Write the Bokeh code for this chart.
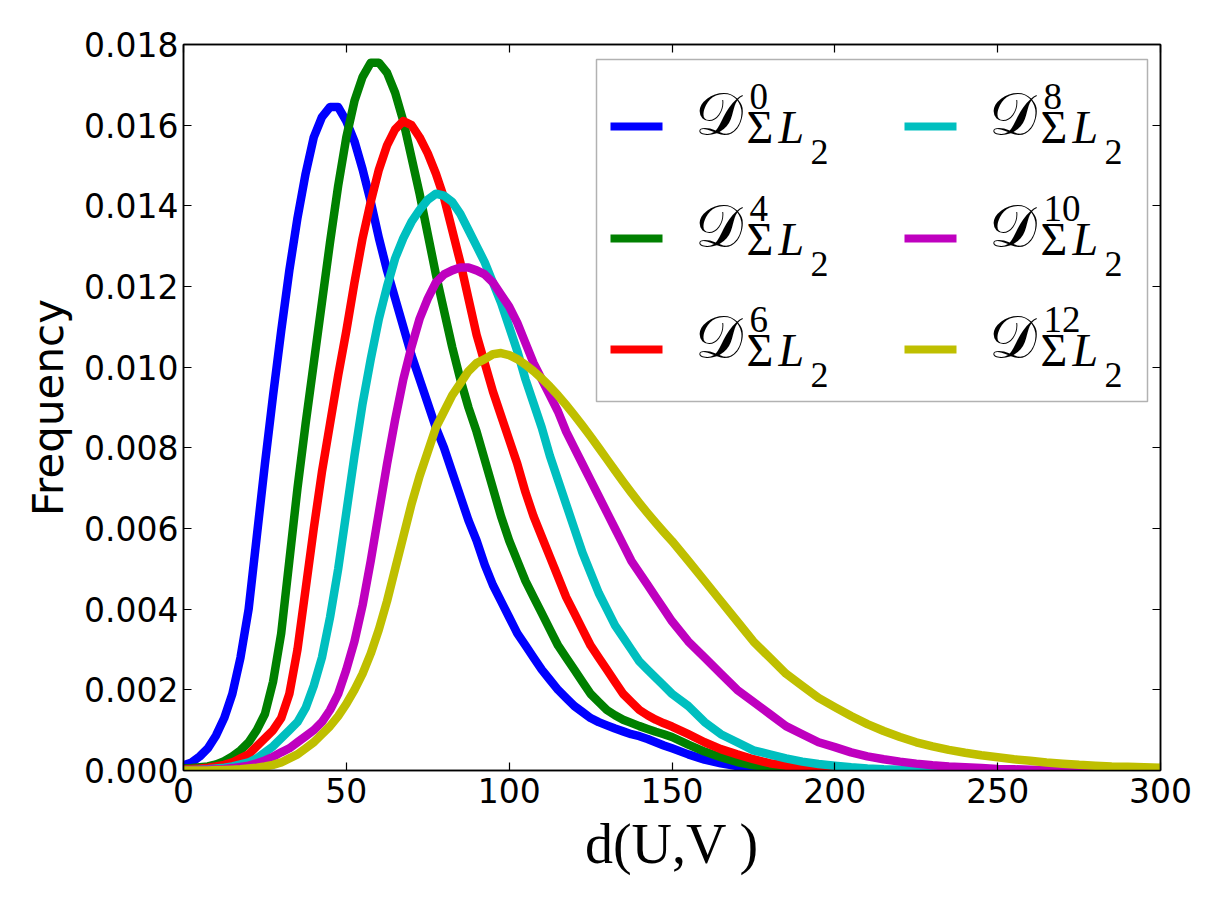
from bokeh.plotting import figure
from bokeh.models import (LinearAxis, FixedTicker, BoxAnnotation, Label, Range1d,
                          CustomLabelingPolicy)
from bokeh.embed import file_html
from bokeh.resources import INLINE

# ---------------- data ----------------
# sample positions along d(U,V): every 2.5 up to 150, then every 5 up to 300
x_vals = [i * 2.5 for i in range(61)] + list(range(155, 301, 5))

d0 = [0.00013, 0.0002, 0.00035, 0.00055, 0.00087, 0.0013, 0.0019, 0.0028, 0.0040, 0.0058,
      0.0076, 0.0093, 0.0109, 0.0124, 0.0137, 0.0148, 0.0157, 0.0162, 0.01645, 0.01645,
      0.0161, 0.0156, 0.0149, 0.0141, 0.0132, 0.0124, 0.0117, 0.0110, 0.0103, 0.0097,
      0.0091, 0.0085, 0.0080, 0.0074, 0.0068, 0.0062, 0.0057, 0.0051, 0.0046, 0.0042,
      0.0038, 0.0034, 0.0031, 0.0028, 0.0025, 0.00225, 0.0020, 0.0018, 0.0016, 0.00145,
      0.0013, 0.0012, 0.00112, 0.00104, 0.00097, 0.0009, 0.00085, 0.00078, 0.0007, 0.00062,
      0.00055,
      0.0004, 0.00027, 0.00018, 0.00011, 0.00007, 0.00004, 0.00002, 0.00001,
      0, 0, 0, 0, 0, 0, 0, 0, 0, 0, 0, 0, 0, 0, 0, 0, 0, 0, 0, 0, 0, 0]
d4 = [0.00005, 0.00006, 0.00008, 0.0001, 0.00015, 0.00023, 0.00035, 0.0005, 0.0007, 0.001,
      0.0014, 0.0022, 0.0034, 0.0052, 0.0070, 0.0086, 0.0101, 0.0116, 0.0131, 0.0145,
      0.0157, 0.0166, 0.0172, 0.01755, 0.01755, 0.0173, 0.0168, 0.0161, 0.0152, 0.0143,
      0.0133, 0.0123, 0.0114, 0.0105, 0.0097, 0.0090, 0.0084, 0.0077, 0.0070, 0.0063,
      0.0057, 0.0052, 0.0047, 0.0043, 0.0039, 0.0035, 0.0031, 0.0028, 0.0025, 0.0022,
      0.0019, 0.0017, 0.0015, 0.00137, 0.00126, 0.00118, 0.0011, 0.00103, 0.00096, 0.0009,
      0.00083,
      0.00064, 0.00047, 0.00033, 0.00021, 0.00013, 0.00008, 0.00005, 0.00003, 0.00001,
      0, 0, 0, 0, 0, 0, 0, 0, 0, 0, 0, 0, 0, 0, 0, 0, 0, 0, 0, 0, 0]
d6 = [0.00003, 0.00004, 0.00005, 0.00007, 0.0001, 0.00014, 0.0002, 0.0003, 0.0004, 0.0006,
      0.0008, 0.001, 0.0013, 0.0019, 0.0030, 0.0045, 0.0060, 0.0074, 0.0086, 0.0098,
      0.0109, 0.0121, 0.0132, 0.0141, 0.0149, 0.0155, 0.0159, 0.0161, 0.0160, 0.0157,
      0.0153, 0.0148, 0.0142, 0.0134, 0.0126, 0.0117, 0.0108, 0.0101, 0.0094, 0.0088,
      0.0082, 0.0076, 0.0069, 0.0063, 0.0058, 0.0053, 0.0048, 0.0043, 0.0039, 0.0035,
      0.0031, 0.0028, 0.0025, 0.0022, 0.0019, 0.0017, 0.0015, 0.00137, 0.00126, 0.00117,
      0.00109,
      0.0009, 0.0007, 0.00053, 0.0004, 0.00028, 0.00018, 0.00012, 0.00008, 0.00005, 0.00003,
      0.00001, 0, 0, 0, 0, 0, 0, 0, 0, 0, 0, 0, 0, 0, 0, 0, 0, 0, 0, 0]
d8 = [0.00001, 0.00001, 0.00002, 0.00003, 0.00005, 0.00007, 0.0001, 0.00015, 0.0002, 0.0003,
      0.00045, 0.0006, 0.0008, 0.001, 0.0012, 0.00155, 0.0021, 0.0028, 0.0038, 0.0050,
      0.0064, 0.0078, 0.0091, 0.0102, 0.0112, 0.0120, 0.0127, 0.0132, 0.0136, 0.0139,
      0.01415, 0.0143, 0.01425, 0.0141, 0.0138, 0.0134, 0.0130, 0.0126, 0.0121, 0.0116,
      0.0110, 0.0104, 0.0097, 0.0091, 0.0085, 0.0078, 0.0072, 0.0066, 0.0060, 0.0054,
      0.0049, 0.0044, 0.0040, 0.0036, 0.0033, 0.0030, 0.0027, 0.0025, 0.0023, 0.0021,
      0.0019,
      0.0016, 0.0012, 0.0009, 0.0007, 0.0005, 0.0004, 0.0003, 0.00022, 0.00016, 0.00012,
      0.00008, 0.00005, 0.00003, 0.00002, 0.00001, 0, 0, 0, 0, 0, 0, 0, 0, 0, 0, 0, 0, 0, 0, 0]
d10 = [0, 0, 0.00001, 0.00002, 0.00003, 0.00004, 0.00006, 0.00009, 0.00012, 0.00018,
       0.00025, 0.00034, 0.00045, 0.00055, 0.0007, 0.00085, 0.001, 0.0012, 0.0015, 0.0019,
       0.0025, 0.0032, 0.0041, 0.0052, 0.0064, 0.0076, 0.0087, 0.0097, 0.0105, 0.0112,
       0.0117, 0.0121, 0.0123, 0.0124, 0.01247, 0.01247, 0.0124, 0.0123, 0.0121, 0.0118,
       0.0115, 0.0111, 0.0106, 0.0101, 0.0097, 0.0093, 0.0089, 0.0084, 0.0080, 0.0076,
       0.0072, 0.0068, 0.0064, 0.0060, 0.0056, 0.0052, 0.0049, 0.0046, 0.0043, 0.0040,
       0.0037,
       0.0032, 0.0028, 0.0024, 0.0020, 0.0017, 0.0014, 0.0011, 0.0009, 0.0007, 0.00058,
       0.00045, 0.00035, 0.00028, 0.00022, 0.00017, 0.00013, 0.0001, 0.00008, 0.00006, 0.00004,
       0.00003, 0.00002, 0.00001, 0, 0, 0, 0, 0, 0, 0]
d12 = [0, 0, 0, 0, 0.00001, 0.00001, 0.00002, 0.00003, 0.00005, 0.00007,
       0.0001, 0.00014, 0.0002, 0.0003, 0.0004, 0.00055, 0.0007, 0.0009, 0.0011, 0.00135,
       0.00165, 0.002, 0.0024, 0.0029, 0.0035, 0.0042, 0.005, 0.0058, 0.0066, 0.0073,
       0.0079, 0.0085, 0.0089, 0.0093, 0.0096, 0.0099, 0.0101, 0.0102, 0.01032, 0.01035,
       0.0103, 0.0102, 0.01006, 0.0099, 0.00972, 0.00952, 0.0093, 0.00906, 0.00881, 0.00855,
       0.00828, 0.008, 0.00772, 0.00744, 0.00716, 0.00689, 0.00663, 0.00638, 0.00614, 0.00591,
       0.00569,
       0.0052, 0.0047, 0.0042, 0.0037, 0.0032, 0.0028, 0.0024, 0.0021, 0.0018, 0.00157,
       0.00135, 0.00115, 0.00098, 0.00083, 0.0007, 0.0006, 0.00051, 0.00044, 0.00038, 0.00033,
       0.00028, 0.00024, 0.0002, 0.00017, 0.00014, 0.00012, 0.0001, 0.00009, 0.00008, 0.00007]

series_values = [d0, d4, d6, d8, d10, d12]
series_sup = ["0", "4", "6", "8", "10", "12"]
series_colors = ["#0000ff", "#008000", "#ff0000", "#00bfbf", "#bf00bf", "#bfbf00"]
for s in series_values:
    assert len(s) == len(x_vals), (len(s), len(x_vals))

x_ticks = [0, 50, 100, 150, 200, 250, 300]
x_tick_labels = ["0", "50", "100", "150", "200", "250", "300"]
y_ticks = [0.000, 0.002, 0.004, 0.006, 0.008, 0.010, 0.012, 0.014, 0.016, 0.018]
y_tick_labels = ["0.000", "0.002", "0.004", "0.006", "0.008", "0.010", "0.012", "0.014",
                 "0.016", "0.018"]

# ---------------- layout ----------------
W, H = 1219, 919
FL, FR, FT, FB = 183, 1160, 44, 770
X_MIN, X_MAX = 0, 300
Y_MIN, Y_MAX = 0.0, 0.018


def dx(px):
    return X_MIN + (px - FL) * (X_MAX - X_MIN) / (FR - FL)


def dy(py):
    return Y_MIN + (FB - py) * (Y_MAX - Y_MIN) / (FB - FT)


p = figure(width=W, height=H, output_backend="svg", toolbar_location=None,
           x_range=Range1d(X_MIN, X_MAX), y_range=Range1d(Y_MIN, Y_MAX),
           min_border_left=FL, min_border_right=W - FR,
           min_border_top=FT, min_border_bottom=H - FB)
p.background_fill_color = "white"
p.border_fill_color = "white"
p.outline_line_color = "black"
p.outline_line_width = 1.5
p.xgrid.visible = False
p.ygrid.visible = False

for vals, col in zip(series_values, series_colors):
    p.line(x_vals, vals, line_color=col, line_width=8.5, line_join="round")

TICK_FONT = "DejaVu Sans"
for ax in (p.xaxis[0], p.yaxis[0]):
    ax.axis_line_color = "black"
    ax.axis_line_width = 1.5
    ax.major_tick_in = 8
    ax.major_tick_out = 0
    ax.major_tick_line_width = 1.2
    ax.major_tick_line_color = "black"
    ax.minor_tick_line_color = None
    ax.major_label_text_font = TICK_FONT
    ax.major_label_text_font_size = "33px"
    ax.major_label_text_color = "black"

p.xaxis[0].ticker = FixedTicker(ticks=x_ticks)
p.xaxis[0].major_label_overrides = dict(zip(x_ticks, x_tick_labels))
p.xaxis[0].major_label_standoff = 7
p.xaxis[0].axis_label = "d(U,V )"
p.xaxis[0].axis_label_text_font = "Liberation Serif"
p.xaxis[0].axis_label_text_font_size = "56px"
p.xaxis[0].axis_label_text_font_style = "normal"
p.xaxis[0].axis_label_text_color = "black"
p.xaxis[0].axis_label_standoff = 7

p.yaxis[0].ticker = FixedTicker(ticks=y_ticks)
p.yaxis[0].major_label_overrides = dict(zip(y_ticks, y_tick_labels))
p.yaxis[0].major_label_standoff = 5
p.yaxis[0].axis_label = "Frequency"
p.yaxis[0].axis_label_text_font = TICK_FONT
p.yaxis[0].axis_label_text_font_size = "42px"
p.yaxis[0].axis_label_text_font_style = "normal"
p.yaxis[0].axis_label_text_color = "black"
p.yaxis[0].axis_label_standoff = 8

ax_top = LinearAxis(ticker=FixedTicker(ticks=x_ticks),
                    major_label_policy=CustomLabelingPolicy(code="return []"),
                    axis_line_color="black", axis_line_width=1.5, major_tick_in=8,
                    major_tick_out=0, major_tick_line_width=1.2, minor_tick_line_color=None)
ax_right = LinearAxis(ticker=FixedTicker(ticks=y_ticks),
                      major_label_policy=CustomLabelingPolicy(code="return []"),
                      axis_line_color="black", axis_line_width=1.5, major_tick_in=8,
                      major_tick_out=0, major_tick_line_width=1.2, minor_tick_line_color=None)
p.add_layout(ax_top, "above")
p.add_layout(ax_right, "right")

# ---------------- legend ----------------
SERIF = "Liberation Serif"
p.add_layout(BoxAnnotation(left=dx(596), right=dx(1147), top=dy(59), bottom=dy(401),
                           fill_color="white", fill_alpha=1.0, line_color="black",
                           line_width=1.5, level="overlay"))
row_y = [126, 238, 349]
col_x = [0, 294]
for i, (sup, col) in enumerate(zip(series_sup, series_colors)):
    c, r = divmod(i, 3)
    cy = row_y[r]
    ox = col_x[c]
    p.add_layout(BoxAnnotation(left=dx(610 + ox), right=dx(662 + ox), top=dy(cy - 4),
                               bottom=dy(cy + 4), fill_color=col, fill_alpha=1.0,
                               line_color=None, level="overlay"))
    for txt, left, dyo, size, style in [("\U0001D49F", 694, -12, "60px", "normal"),
                                         (sup, 749, -30, "37px", "normal"),
                                         ("\u03A3", 746, 1, "46px", "normal"),
                                         ("L", 778, 1, "46px", "italic"),
                                         ("2", 810, 25, "36px", "normal")]:
        p.add_layout(Label(x=dx(left + ox), y=dy(cy + dyo), text=txt, text_font=SERIF,
                           text_font_size=size, text_font_style=style, text_color="black",
                           text_align="left", text_baseline="alphabetic", level="overlay"))

open("out.html", "w").write(file_html(p, INLINE))
